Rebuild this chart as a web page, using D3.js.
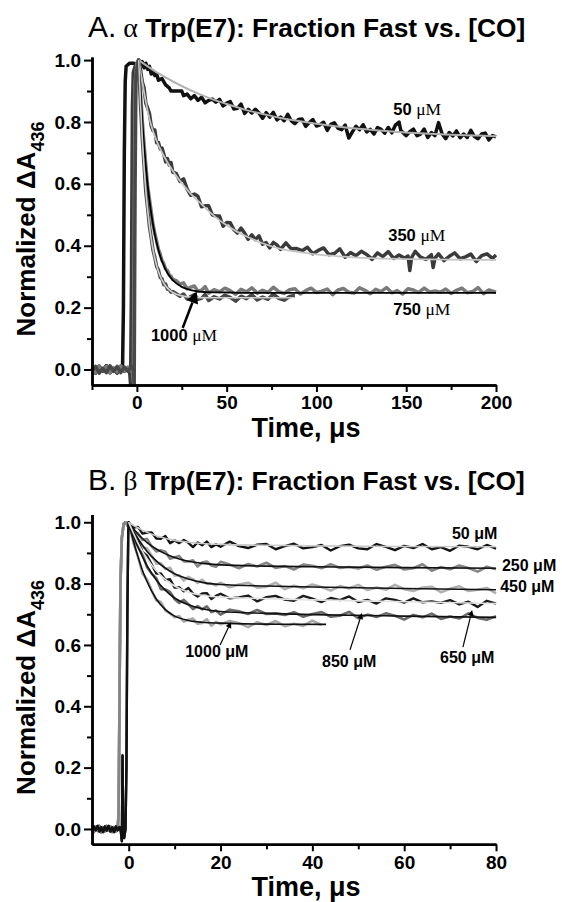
<!DOCTYPE html>
<html><head><meta charset="utf-8">
<script src="https://cdn.jsdelivr.net/npm/d3@7"></script>
<style>
html,body{margin:0;padding:0;background:#fff;}
svg{display:block;}
text{font-family:"Liberation Sans",Arial,sans-serif;}
</style></head>
<body>
<script>
// ---------- Panel A data (time µs, normalized ΔA436) ----------
const aXMajor = [0, 50, 100, 150, 200];
const aXMinor = [-25, 25, 75, 125, 175];
const yMajor = [0.0, 0.2, 0.4, 0.6, 0.8, 1.0];
const yMinor = [0.1, 0.3, 0.5, 0.7, 0.9];

const a50Data = [[-25,0.005],[-23,-0.01],[-21,0.01],[-19,-0.005],[-17,0.012],[-15,-0.008],[-13,0.004],[-11,-0.01],[-9,0.008],[-8,0.0],[-7.5,0.2],[-7,0.7],[-6.5,0.93],[-6,0.98],[-4,0.99],[-2,0.99],[0,0.985],[1,1.0],[2,0.985],[3,0.995],[4,0.975],[5,0.99],[6,0.97],[7,0.98],[8,0.955],[9,0.965],[10,0.95],[11,0.955],[12,0.935],[14,0.94],[16,0.92],[18,0.91],[19,0.9],[22,0.9],[25,0.9],[26,0.885],[28,0.89],[30,0.875],[32,0.885],[34,0.87],[36,0.88],[38,0.862],[40,0.87],[42,0.874],[44,0.864],[46,0.873],[48,0.852],[50,0.861],[52,0.866],[54,0.842],[56,0.844],[58,0.858],[60,0.828],[62,0.841],[64,0.829],[66,0.841],[68,0.829],[70,0.812],[72,0.83],[74,0.816],[76,0.831],[78,0.807],[80,0.816],[82,0.804],[84,0.825],[86,0.804],[88,0.795],[90,0.808],[92,0.81],[94,0.786],[96,0.798],[98,0.808],[100,0.787],[102,0.791],[104,0.799],[106,0.773],[108,0.792],[110,0.797],[112,0.78],[114,0.775],[116,0.79],[118,0.748],[120,0.768],[122,0.786],[124,0.775],[126,0.791],[128,0.768],[130,0.776],[132,0.761],[134,0.782],[136,0.776],[138,0.764],[140,0.782],[142,0.765],[144,0.79],[146,0.8],[147,0.772],[150,0.756],[152,0.769],[154,0.777],[156,0.756],[158,0.761],[160,0.777],[162,0.75],[164,0.766],[166,0.756],[168,0.798],[170,0.761],[172,0.746],[174,0.766],[176,0.755],[178,0.771],[180,0.749],[182,0.761],[184,0.75],[186,0.773],[188,0.753],[190,0.746],[192,0.761],[194,0.764],[196,0.742],[198,0.756],[200,0.752]];
const a50Fit = [[1,1.0],[10,0.9645],[20,0.931],[30,0.902],[40,0.878],[50,0.858],[60,0.84],[70,0.826],[80,0.813],[90,0.803],[100,0.794],[115,0.783],[130,0.775],[145,0.768],[160,0.763],[175,0.759],[190,0.756],[200,0.754]];

const a350Data = [[-25,0.0],[-23,-0.012],[-21,0.01],[-19,-0.004],[-17,0.012],[-15,-0.01],[-13,0.002],[-11,-0.012],[-9,0.01],[-7,-0.006],[-5,0.006],[-4,-0.01],[-3.5,-0.05],[-3,0.3],[-2.5,0.85],[-2,0.96],[-1,0.98],[0,0.99],[1,1.0],[2,0.97],[3,0.93],[4,0.91],[5,0.86],[6,0.845],[7,0.827],[8,0.787],[9,0.772],[10,0.774],[11,0.733],[12,0.734],[13,0.713],[14,0.716],[15,0.696],[16,0.671],[17,0.682],[18,0.661],[19,0.669],[20,0.638],[22,0.633],[24,0.608],[26,0.616],[28,0.583],[30,0.563],[32,0.567],[34,0.56],[36,0.526],[38,0.529],[40,0.529],[42,0.5],[44,0.496],[46,0.496],[48,0.463],[50,0.475],[52,0.474],[54,0.452],[56,0.441],[58,0.457],[60,0.441],[62,0.421],[64,0.435],[66,0.42],[68,0.432],[70,0.405],[72,0.41],[74,0.393],[76,0.411],[78,0.403],[80,0.388],[83,0.409],[86,0.39],[89,0.391],[92,0.384],[95,0.395],[98,0.374],[101,0.385],[104,0.393],[107,0.371],[110,0.375],[113,0.39],[116,0.363],[119,0.378],[122,0.368],[125,0.382],[128,0.372],[131,0.356],[134,0.377],[137,0.365],[140,0.381],[143,0.359],[146,0.37],[149,0.36],[151,0.367],[152,0.32],[153,0.362],[155,0.382],[158,0.363],[161,0.356],[164,0.371],[165,0.33],[166,0.36],[168,0.374],[171,0.352],[174,0.366],[177,0.377],[180,0.358],[183,0.364],[186,0.373],[189,0.349],[192,0.368],[195,0.374],[198,0.359],[200,0.37]];
const a350Fit = [[1,1.0],[3,0.93],[5,0.865],[7,0.81],[9,0.77],[12,0.725],[15,0.69],[18,0.66],[22,0.625],[26,0.595],[30,0.568],[35,0.54],[40,0.512],[45,0.487],[50,0.466],[55,0.448],[60,0.433],[65,0.42],[70,0.408],[80,0.39],[90,0.38],[100,0.372],[115,0.365],[130,0.36],[150,0.357],[175,0.355],[200,0.354]];

const a750Data = [[-25,0.008],[-23,-0.01],[-21,0.012],[-19,-0.002],[-17,0.01],[-15,-0.012],[-13,0.006],[-11,-0.008],[-9,0.012],[-7,-0.005],[-5,0.008],[-3,-0.006],[-2.5,0],[-2,-0.04],[-1.5,0.5],[-1,0.93],[0,0.99],[1,1.0],[2,0.895],[3,0.805],[4,0.728],[5,0.66],[6,0.592],[7,0.55],[8,0.51],[9,0.468],[10,0.44],[11,0.415],[12,0.388],[13,0.372],[14,0.352],[15,0.342],[16,0.325],[17,0.32],[18,0.306],[19,0.302],[20,0.291],[22,0.287],[24,0.276],[26,0.28],[28,0.261],[30,0.266],[32,0.27],[34,0.253],[36,0.256],[38,0.268],[40,0.247],[43,0.258],[46,0.251],[49,0.263],[52,0.255],[55,0.243],[58,0.259],[61,0.251],[64,0.264],[67,0.247],[70,0.256],[73,0.249],[76,0.266],[79,0.252],[82,0.246],[85,0.258],[88,0.261],[91,0.244],[94,0.255],[97,0.263],[100,0.249],[103,0.253],[106,0.26],[109,0.242],[112,0.257],[115,0.262],[118,0.25],[121,0.247],[124,0.264],[127,0.256],[130,0.245],[133,0.259],[136,0.252],[139,0.265],[142,0.248],[145,0.255],[148,0.244],[151,0.261],[154,0.257],[157,0.249],[160,0.263],[163,0.251],[166,0.254],[169,0.25],[172,0.26],[175,0.246],[178,0.256],[181,0.263],[184,0.248],[187,0.252],[190,0.265],[193,0.245],[196,0.257],[200,0.25]];
const a750Fit = [[1,1.0],[2,0.892],[3,0.801],[4,0.722],[5,0.654],[6,0.596],[8,0.504],[10,0.436],[12,0.386],[14,0.35],[17,0.312],[20,0.289],[25,0.267],[30,0.257],[35,0.252],[40,0.25],[50,0.249],[60,0.248],[200,0.248]];

const a1000Data = [[-25,-0.005],[-23,0.01],[-21,-0.012],[-19,0.004],[-17,-0.01],[-15,0.012],[-13,-0.006],[-11,0.01],[-9,-0.01],[-7,0.008],[-5,-0.006],[-3,0.01],[-2,0],[-1.5,-0.05],[-1,0.6],[-0.5,0.95],[0.5,0.99],[1,1.0],[2,0.858],[3,0.748],[4,0.66],[5,0.572],[6,0.52],[7,0.462],[8,0.425],[9,0.385],[10,0.362],[11,0.333],[12,0.322],[13,0.298],[14,0.293],[15,0.274],[16,0.276],[17,0.26],[18,0.258],[19,0.25],[20,0.252],[22,0.245],[24,0.237],[26,0.244],[28,0.228],[30,0.236],[32,0.242],[34,0.227],[36,0.23],[38,0.243],[40,0.223],[43,0.235],[46,0.228],[49,0.24],[52,0.233],[55,0.221],[58,0.237],[61,0.229],[64,0.242],[67,0.225],[70,0.234],[73,0.227],[76,0.244],[79,0.23],[82,0.224],[85,0.236],[88,0.239]];
const a1000Fit = [[1,1.0],[2,0.861],[3,0.747],[4,0.654],[5,0.577],[6,0.515],[8,0.422],[10,0.359],[12,0.317],[14,0.289],[17,0.263],[20,0.249],[25,0.238],[30,0.234],[40,0.232],[88,0.232]];

// ---------- Panel B data ----------
const bXMajor = [0, 20, 40, 60, 80];
const bXMinor = [10, 30, 50, 70];
const tB = [0,1,2,3,4,5,6,7,8,9,10,11,12,13,14,15,16,17,18,19,20,22,24,26,28,30,32,34,36,38,40,42,44,46,48,50,52,54,56,58,60,62,64,66,68,70,72,74,76,78,80];
const bRiseGray = [[-8,0.004],[-7.6,-0.01],[-7.2,0.008],[-6.8,-0.006],[-6.4,0.01],[-6,-0.012],[-5.6,0.006],[-5.2,-0.008],[-4.8,0.01],[-4.4,-0.005],[-4,0.008],[-3.6,-0.01],[-3.2,0.006],[-2.8,-0.008],[-2.4,0.004],[-2.2,0.05],[-2.0,0.45],[-1.8,0.8],[-1.5,0.95],[-1.1,0.995],[-0.7,1.0],[-0.3,0.99]];
const bRiseBlack = [[-8,-0.006],[-7.6,0.008],[-7.2,-0.004],[-6.8,0.01],[-6.4,-0.008],[-6,0.006],[-5.6,-0.01],[-5.2,0.008],[-4.8,-0.005],[-4.4,0.01],[-4,-0.008],[-3.6,0.005],[-3.2,-0.01],[-2.8,0.008],[-2.4,-0.004],[-2,0.006],[-1.7,-0.01],[-1.5,-0.04],[-1.35,0.24],[-1.2,0.0],[-1.0,-0.03],[-0.7,0.0],[-0.5,0.2],[-0.3,0.7],[-0.1,0.97]];
const b50Vals = [1.0,0.983,0.985,0.963,0.966,0.967,0.947,0.946,0.955,0.932,0.941,0.932,0.942,0.933,0.919,0.934,0.925,0.937,0.919,0.928,0.92,0.937,0.922,0.916,0.927,0.929,0.912,0.922,0.93,0.915,0.919,0.926,0.908,0.922,0.927,0.915,0.912,0.929,0.92,0.909,0.923,0.916,0.929,0.912,0.919,0.907,0.924,0.92,0.912,0.926,0.914];
const b250Vals = [1.0,0.973,0.964,0.942,0.946,0.921,0.905,0.909,0.904,0.881,0.886,0.89,0.872,0.872,0.876,0.856,0.869,0.872,0.859,0.855,0.871,0.862,0.85,0.864,0.856,0.868,0.851,0.857,0.846,0.862,0.858,0.85,0.863,0.851,0.854,0.849,0.859,0.845,0.855,0.861,0.846,0.85,0.863,0.842,0.854,0.847,0.859,0.851,0.839,0.855,0.847];
const b450Vals = [1.0,0.98,0.943,0.918,0.915,0.891,0.865,0.866,0.848,0.852,0.826,0.827,0.81,0.822,0.814,0.802,0.813,0.799,0.8,0.794,0.803,0.788,0.797,0.803,0.787,0.79,0.803,0.782,0.793,0.785,0.797,0.789,0.777,0.792,0.784,0.796,0.779,0.787,0.78,0.796,0.782,0.776,0.787,0.79,0.772,0.783,0.791,0.776,0.78,0.786,0.768];
const b650Vals = [1.0,0.958,0.938,0.903,0.891,0.863,0.833,0.833,0.812,0.814,0.787,0.788,0.775,0.786,0.768,0.758,0.768,0.769,0.75,0.76,0.767,0.752,0.755,0.761,0.742,0.756,0.76,0.748,0.744,0.76,0.751,0.74,0.753,0.746,0.758,0.74,0.747,0.735,0.752,0.747,0.738,0.752,0.739,0.742,0.737,0.746,0.732,0.741,0.724,0.744,0.735];
const b850Vals = [1.0,0.948,0.921,0.896,0.853,0.832,0.818,0.782,0.781,0.773,0.749,0.737,0.747,0.733,0.717,0.727,0.716,0.726,0.707,0.712,0.699,0.715,0.71,0.701,0.714,0.701,0.703,0.698,0.707,0.692,0.701,0.707,0.692,0.695,0.708,0.687,0.699,0.691,0.703,0.695,0.683,0.698,0.69,0.702,0.685,0.693,0.686,0.703,0.688,0.682,0.694];
const b1000Vals = [1.0,0.934,0.889,0.833,0.813,0.778,0.745,0.74,0.712,0.703,0.69,0.694,0.676,0.682,0.686,0.669,0.672,0.684,0.663,0.675,0.667,0.678,0.671,0.658,0.674,0.665,0.678,0.661,0.669,0.662,0.679,0.665];
const b50Fit = [[0,1],[1,0.99],[2,0.982],[3,0.974],[4,0.967],[6,0.956],[8,0.947],[10,0.941],[13,0.935],[16,0.931],[20,0.928],[30,0.925],[40,0.923],[60,0.921],[80,0.92]];
const b250Fit = [[0,1],[1,0.98],[2,0.962],[3,0.947],[4,0.934],[6,0.913],[8,0.897],[10,0.885],[13,0.873],[16,0.866],[20,0.861],[30,0.857],[40,0.855],[60,0.852],[80,0.85]];
const b450Fit = [[0,1],[1,0.972],[2,0.947],[3,0.925],[4,0.905],[6,0.874],[8,0.85],[10,0.832],[13,0.815],[16,0.804],[20,0.797],[30,0.792],[40,0.789],[60,0.784],[80,0.78]];
const b650Fit = [[0,1],[1,0.965],[2,0.933],[3,0.905],[4,0.881],[6,0.842],[8,0.813],[10,0.792],[13,0.772],[16,0.762],[20,0.756],[30,0.751],[40,0.747],[60,0.741],[80,0.735]];
const b850Fit = [[0,1],[1,0.958],[2,0.92],[3,0.887],[4,0.858],[6,0.812],[8,0.778],[10,0.753],[13,0.731],[16,0.718],[20,0.709],[30,0.703],[40,0.699],[60,0.694],[80,0.69]];
const b1000Fit = [[0,1],[1,0.94],[2,0.888],[3,0.843],[4,0.806],[6,0.75],[8,0.715],[10,0.694],[13,0.68],[16,0.674],[20,0.671],[30,0.668],[43,0.667]];

// ---------- drawing ----------
const W = 562, H = 902;
const svg = d3.select("body").append("svg").attr("width", W).attr("height", H);

const zip = (ts, vs) => vs.map((v, i) => [ts[i], v]);

function drawPanel(cfg) {
  const g = svg.append("g");
  const x = d3.scaleLinear().domain(cfg.xDomain).range([92, 496]);
  const y = d3.scaleLinear().domain(cfg.yDomain).range(cfg.yRange);
  const line = d3.line().x(d => x(d[0])).y(d => y(d[1]));
  const smooth = d3.line().curve(d3.curveMonotoneX).x(d => x(d[0])).y(d => y(d[1]));

  cfg.data.forEach(s => {
    g.append("path").attr("d", line(s.pts)).attr("fill", "none")
      .attr("stroke", s.color).attr("stroke-width", s.w).attr("stroke-linejoin", "round");
  });
  cfg.fits.forEach(s => {
    g.append("path").attr("d", smooth(s.pts)).attr("fill", "none")
      .attr("stroke", s.color).attr("stroke-width", s.w || 1.6);
  });

  const yb = cfg.yRange[0];
  const axL = g.append("g").attr("transform", "translate(92,0)")
    .call(d3.axisLeft(y).tickValues(yMajor).tickSize(8).tickSizeOuter(0).tickPadding(3).tickFormat(d3.format(".1f")));
  const axLm = g.append("g").attr("transform", "translate(92,0)")
    .call(d3.axisLeft(y).tickValues(yMinor).tickSize(5).tickSizeOuter(0).tickFormat(""));
  const axB = g.append("g").attr("transform", `translate(0,${yb})`)
    .call(d3.axisBottom(x).tickValues(cfg.xMajor).tickSize(7).tickSizeOuter(0).tickPadding(4).tickFormat(d3.format("d")));
  const axBm = g.append("g").attr("transform", `translate(0,${yb})`)
    .call(d3.axisBottom(x).tickValues(cfg.xMinor).tickSize(5).tickSizeOuter(0).tickFormat(""));
  [axL, axLm, axB, axBm].forEach(a => {
    a.select(".domain").attr("stroke", "#000").attr("stroke-width", 2.5);
    a.selectAll(".tick line").attr("stroke", "#000").attr("stroke-width", 2);
    a.selectAll(".tick text").attr("fill", "#000").attr("font-size", 19).attr("font-weight", "bold")
      .attr("font-family", "Liberation Sans, Arial, sans-serif");
  });

  // title
  const t = svg.append("text").attr("x", 88).attr("y", cfg.titleY).attr("fill", "#000");
  t.append("tspan").attr("font-size", 30).text(cfg.letter + ".");
  t.append("tspan").attr("font-family", "Liberation Serif, Times New Roman, serif").attr("font-size", 28).text(" " + cfg.greek);
  t.append("tspan").attr("font-size", 26.3).attr("font-weight", "bold").text(" Trp(E7): Fraction Fast vs. [CO]");

  // y label
  const ymid = (cfg.yRange[0] + cfg.yRange[1]) / 2 + 8;
  const yl = svg.append("text").attr("transform", `translate(35,${ymid}) rotate(-90)`)
    .attr("text-anchor", "middle").attr("font-weight", "bold").attr("font-size", 26).attr("fill", "#000");
  yl.append("tspan").text("Normalized ΔA");
  yl.append("tspan").attr("font-size", 18).attr("dy", 9).text("436");

  // x label
  svg.append("text").attr("x", 306).attr("y", cfg.xLabelY).attr("text-anchor", "middle")
    .attr("font-weight", "bold").attr("font-size", 27).attr("fill", "#000").text("Time, μs");

  // annotations
  cfg.labels.forEach(l => {
    const tx = svg.append("text").attr("x", x(l.t)).attr("y", y(l.v)).attr("font-size", l.size)
      .attr("font-weight", "bold").attr("fill", "#000");
    tx.append("tspan").text(l.num + " ");
    const mu = tx.append("tspan").text("μM");
    if (l.serifUnit) mu.attr("font-family", "Liberation Serif, Times New Roman, serif").attr("font-weight", "normal").attr("font-size", l.size + 1);
  });
  cfg.arrows.forEach(a => {
    const x1 = x(a.from[0]), y1 = y(a.from[1]), x2 = x(a.to[0]), y2 = y(a.to[1]);
    const ang = Math.atan2(y2 - y1, x2 - x1);
    const hl = a.head, hw = a.head * 0.5;
    const bx = x2 - hl * Math.cos(ang), by = y2 - hl * Math.sin(ang);
    svg.append("line").attr("x1", x1).attr("y1", y1).attr("x2", bx).attr("y2", by)
      .attr("stroke", "#000").attr("stroke-width", a.w);
    const px = -Math.sin(ang), py = Math.cos(ang);
    svg.append("path").attr("d", `M${x2},${y2}L${bx + px * hw},${by + py * hw}L${bx - px * hw},${by - py * hw}Z`).attr("fill", "#000");
  });
}

drawPanel({
  xDomain: [-25, 200], yDomain: [-0.05, 1.01], yRange: [385, 57],
  xMajor: aXMajor, xMinor: aXMinor, letter: "A", greek: "α", titleY: 37, xLabelY: 437,
  data: [
    {pts: a50Data, color: "#111", w: 3.5},
    {pts: a350Data, color: "#3a3a3a", w: 3.5},
    {pts: a750Data, color: "#7a7a7a", w: 3.5},
    {pts: a1000Data, color: "#484848", w: 3.5}
  ],
  fits: [
    {pts: a50Fit, color: "#b0b0b0", w: 2},
    {pts: a350Fit, color: "#c4c4c4", w: 1.8},
    {pts: a750Fit, color: "#000", w: 1.8},
    {pts: a1000Fit, color: "#d0d0d0", w: 1.6}
  ],
  labels: [
    {num: "50", t: 142.8, v: 0.822, size: 16.5, serifUnit: true},
    {num: "350", t: 140, v: 0.415, size: 16.5, serifUnit: true},
    {num: "750", t: 142.8, v: 0.176, size: 16.5, serifUnit: true},
    {num: "1000", t: 7.8, v: 0.092, size: 16.5, serifUnit: true}
  ],
  arrows: [{from: [25.5, 0.134], to: [33.3, 0.253], head: 12, w: 2.5}]
});

drawPanel({
  xDomain: [-8, 80], yDomain: [-0.05, 1.025], yRange: [844.3, 514.6],
  xMajor: bXMajor, xMinor: bXMinor, letter: "B", greek: "β", titleY: 490, xLabelY: 896,
  data: [
    {pts: bRiseGray.concat(zip(tB, b1000Vals)), color: "#a8a8a8", w: 2.6},
    {pts: bRiseGray.concat(zip(tB, b850Vals)), color: "#6a6a6a", w: 2.6},
    {pts: bRiseGray.concat(zip(tB, b450Vals)), color: "#b0b0b0", w: 2.6},
    {pts: bRiseGray.concat(zip(tB, b250Vals)), color: "#858585", w: 2.6},
    {pts: bRiseBlack.concat(zip(tB, b650Vals)), color: "#1a1a1a", w: 2.4},
    {pts: bRiseBlack.concat(zip(tB, b50Vals)), color: "#111", w: 2.4}
  ],
  fits: [
    {pts: b1000Fit, color: "#111"},
    {pts: b850Fit, color: "#111"},
    {pts: b450Fit, color: "#111"},
    {pts: b250Fit, color: "#111"},
    {pts: b650Fit, color: "#e2e2e2"},
    {pts: b50Fit, color: "#c8c8c8"}
  ],
  labels: [
    {num: "50", t: 70.4, v: 0.946, size: 16},
    {num: "250", t: 81.3, v: 0.841, size: 16},
    {num: "450", t: 80.9, v: 0.773, size: 16},
    {num: "850", t: 42.1, v: 0.528, size: 16},
    {num: "650", t: 67.8, v: 0.541, size: 16},
    {num: "1000", t: 12.3, v: 0.561, size: 16}
  ],
  arrows: [
    {from: [19.9, 0.60], to: [22.3, 0.675], head: 6, w: 1.2},
    {from: [48.2, 0.584], to: [50.8, 0.704], head: 6, w: 1.2},
    {from: [72.8, 0.593], to: [74.8, 0.714], head: 6, w: 1.2}
  ]
});
</script>
</body></html>
